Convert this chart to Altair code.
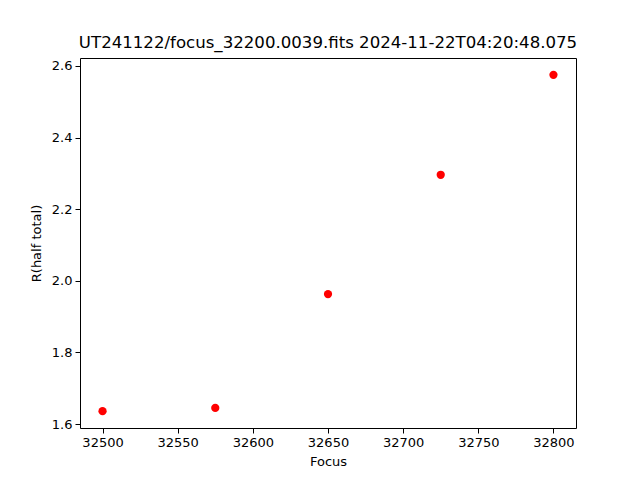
import altair as alt
import pandas as pd

focus = [32500, 32575, 32650, 32725, 32800]
r_half = [1.636, 1.645, 1.963, 2.296, 2.575]
x_ticks = [32500, 32550, 32600, 32650, 32700, 32750, 32800]
y_ticks = [1.6, 1.8, 2.0, 2.2, 2.4, 2.6]

df = pd.DataFrame({"Focus": focus, "R": r_half})

font = "DejaVu Sans"
chart = alt.Chart(df).mark_point(filled=True, opacity=1, size=68, color="#ff0000").encode(
    x=alt.X("Focus:Q", scale=alt.Scale(domain=[32485, 32815], nice=False, zero=False),
            axis=alt.Axis(values=x_ticks, format="d", title="Focus")),
    y=alt.Y("R:Q", scale=alt.Scale(domain=[1.589, 2.622], nice=False, zero=False),
            axis=alt.Axis(values=y_ticks, format=".1f", title="R(half total)")),
).properties(
    width=496, height=370,
    title=alt.TitleParams("UT241122/focus_32200.0039.fits 2024-11-22T04:20:48.075",
                          fontSize=16.6, fontWeight="normal", font=font, color="black",
                          anchor="middle", frame="group", offset=6),
    autosize=alt.AutoSizeParams(type="none"),
    padding={"left": 72, "top": 50, "right": 56, "bottom": 45},
).configure_view(stroke="black", strokeWidth=1).configure_axis(
    grid=False, domain=False, tickColor="black", tickSize=5, tickWidth=1,
    labelFont=font, labelFontSize=13, labelColor="black", labelPadding=3,
    titleFont=font, titleFontSize=13, titleFontWeight="normal", titleColor="black",
).configure_axisX(titlePadding=6).configure_axisY(titlePadding=8)

chart.save("out.html", embed_options={"renderer": "svg", "actions": False})
